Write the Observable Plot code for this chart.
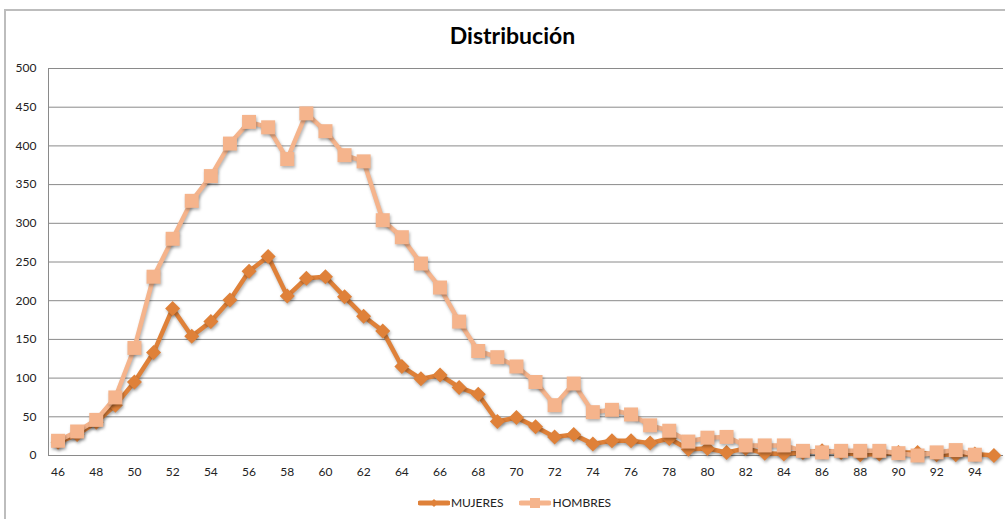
<!DOCTYPE html>
<html>
<head>
<meta charset="utf-8">
<script src="https://cdn.jsdelivr.net/npm/d3@7"></script>
<script src="https://cdn.jsdelivr.net/npm/@observablehq/plot@0.6"></script>
<style>
  html, body { margin: 0; padding: 0; background: #fff; }
  body { width: 1005px; height: 519px; overflow: hidden; position: relative; font-family: Lato, "Open Sans", sans-serif; }
  #frame { position: absolute; left: 4px; top: 9px; width: 1010px; height: 520px; border-left: 2px solid #bdbdbd; border-top: 2px solid #bdbdbd; box-sizing: border-box; }
  #title { position: absolute; left: 10px; top: 21px; width: 1005px; text-align: center; font-size: 23px; font-weight: bold; color: #000; }
  #chart { position: absolute; left: 0; top: 55px; }
  #legend { position: absolute; top: 495px; left: 12px; width: 1005px; display: flex; justify-content: center; align-items: center; font-size: 12px; color: #222; gap: 0; }
  .item { display: flex; align-items: center; margin: 0 8px; }
  .item svg { margin-right: 1px; }
  .shadow path { filter: drop-shadow(1.5px 2px 1.5px rgba(0,0,0,0.3)); }
</style>
</head>
<body>
<div id="frame"></div>
<div id="title">Distribución</div>
<div id="chart"></div>
<div id="legend"></div>
<script>
const categories = [46,47,48,49,50,51,52,53,54,55,56,57,58,59,60,61,62,63,64,65,66,67,68,69,70,71,72,73,74,75,76,77,78,79,80,81,82,83,84,85,86,87,88,89,90,91,92,93,94,95];
const mujeres = [17,27,43,65,95,133,190,154,173,201,238,257,206,229,231,205,180,161,115,99,104,88,79,44,49,37,24,27,15,19,19,16,22,8,9,4,9,3,2,4,6,4,1,2,4,4,1,1,2,0];
const hombres = [19,31,46,75,139,231,280,329,361,403,431,424,383,442,419,388,380,304,282,248,217,173,135,127,115,95,65,93,56,59,53,39,32,18,23,24,13,13,13,6,4,6,6,6,3,0,4,7,1,null];
const xTicks = [46,48,50,52,54,56,58,60,62,64,66,68,70,72,74,76,78,80,82,84,86,88,90,92,94];
const yTicks = [0,50,100,150,200,250,300,350,400,450,500];
const seriesNames = ["MUJERES", "HOMBRES"];
const seriesColors = ["#df8139", "#f5b48c"];

const diamond = { draw(ctx, size) { const r = 7.5; ctx.moveTo(0,-r); ctx.lineTo(r,0); ctx.lineTo(0,r); ctx.lineTo(-r,0); ctx.closePath(); } };
const square = { draw(ctx, size) { const r = 7; ctx.rect(-r,-r,2*r,2*r); } };

const dataM = categories.map((c,i) => ({x: c, y: mujeres[i]}));
const dataH = categories.map((c,i) => ({x: c, y: hombres[i]})).filter(d => d.y != null);

const chart = Plot.plot({
  width: 1005,
  height: 430,
  marginLeft: 48,
  marginRight: 2,
  marginTop: 13,
  marginBottom: 30,
  style: { fontFamily: "Lato, 'Open Sans', sans-serif", fontSize: "12px", color: "#222", background: "transparent" },
  x: { domain: [45.5, 95.5], ticks: xTicks, tickFormat: d => String(d), tickSize: 0, tickPadding: 12, label: null },
  y: { domain: [0, 500], ticks: yTicks, tickSize: 0, tickPadding: 12, label: null },
  marks: [
    Plot.ruleY(yTicks, { stroke: "#8a8a8a", strokeWidth: 1, strokeOpacity: 1 }),
    Plot.ruleX([45.5], { y1: 0, y2: 500, stroke: "#8a8a8a", strokeWidth: 1 }),
    Plot.line(dataM, { x: "x", y: "y", stroke: seriesColors[0], strokeWidth: 4.5, className: "shadow" }),
    Plot.dot(dataM, { x: "x", y: "y", symbol: diamond, fill: seriesColors[0], stroke: "none", className: "shadow" }),
    Plot.line(dataH, { x: "x", y: "y", stroke: seriesColors[1], strokeWidth: 4.5, className: "shadow" }),
    Plot.dot(dataH, { x: "x", y: "y", symbol: square, fill: seriesColors[1], stroke: "none", className: "shadow" })
  ]
});
document.getElementById("chart").appendChild(chart);

const legend = document.getElementById("legend");
seriesNames.forEach((name, i) => {
  const item = document.createElement("div");
  item.className = "item";
  const sym = i === 0
    ? `<path d="M16,3 L20,7 L16,11 L12,7 Z" fill="${seriesColors[i]}"/>`
    : `<rect x="11" y="2" width="10" height="10" fill="${seriesColors[i]}"/>`;
  item.innerHTML = `<svg width="32" height="14"><line x1="2" x2="30" y1="7" y2="7" stroke="${seriesColors[i]}" stroke-width="5" stroke-linecap="round"/>${sym}</svg><span>${name}</span>`;
  legend.appendChild(item);
});
</script>
</body>
</html>
